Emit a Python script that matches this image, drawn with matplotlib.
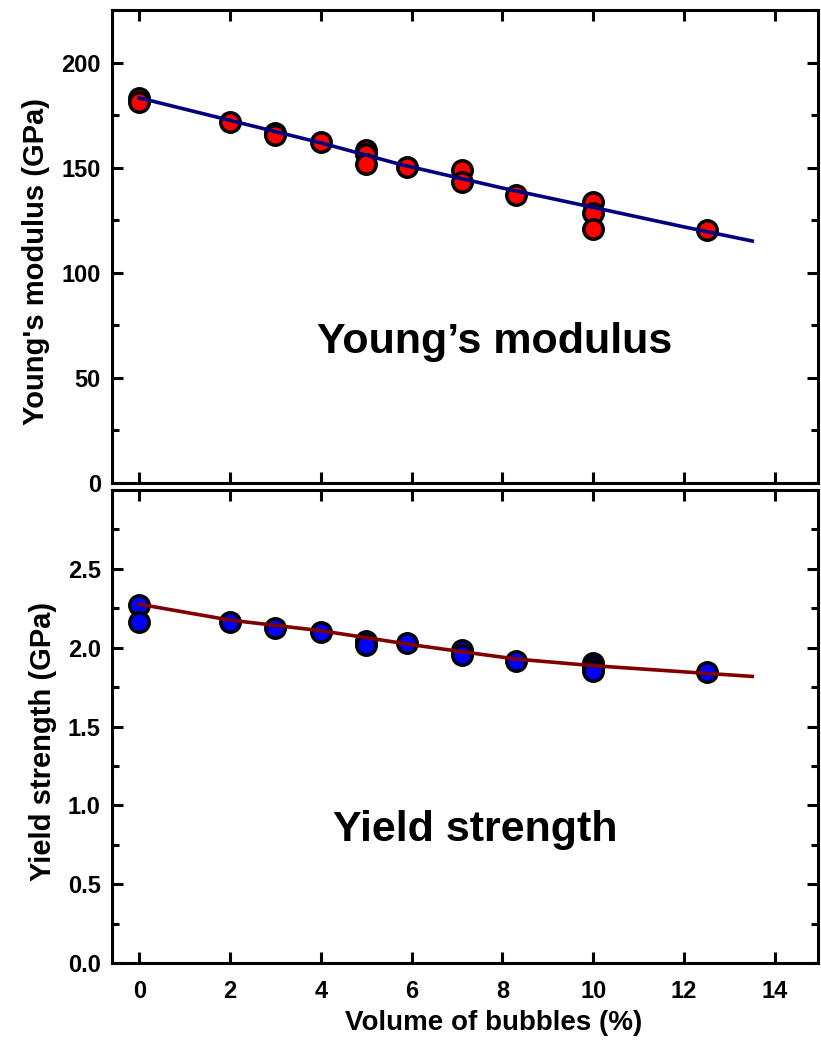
import matplotlib
matplotlib.use('Agg')
import matplotlib.pyplot as plt
from matplotlib.ticker import MultipleLocator, FixedLocator

plt.rcParams['font.family'] = ['Liberation Sans', 'DejaVu Sans']
plt.rcParams['font.weight'] = 'bold'

# measured points (volume of bubbles %)
young_x = [0, 0, 2, 3, 3, 4, 5, 5, 5, 5.9, 7.1, 7.1, 8.3, 10, 10, 10, 12.5]
young_y = [183, 181, 171.6, 166.4, 165.3, 162.1, 158.5, 156.6, 151.9, 150.3,
           148.7, 143.4, 136.8, 133.6, 128.4, 121.0, 120.5]

yield_x = [0, 0, 2, 3, 4, 5, 5, 5.9, 7.1, 7.1, 8.3, 10, 10, 10, 12.5]
yield_y = [2.27, 2.16, 2.165, 2.125, 2.10, 2.044, 2.02, 2.027, 1.985, 1.955,
           1.913, 1.90, 1.875, 1.855, 1.844]

# fitted curves
young_fit_x = [0, 2, 4, 5.76, 8, 10, 12, 13.5]
young_fit_y = [183.2, 172.5, 161.8, 151.5, 140.3, 131.1, 121.8, 115.1]

yield_fit_x = [0, 2, 4, 6, 7.1, 8.3, 10, 12.5, 13.5]
yield_fit_y = [2.276, 2.175, 2.108, 2.019, 1.975, 1.928, 1.886, 1.837, 1.818]

young_ticks = [0, 50, 100, 150, 200]
yield_ticks = [0.0, 0.5, 1.0, 1.5, 2.0, 2.5]

fig = plt.figure(figsize=(8.21, 10.42), dpi=100)
ax1 = fig.add_axes([0.1364, 0.5365, 0.860, 0.4539])
ax2 = fig.add_axes([0.1364, 0.0758, 0.860, 0.4539])

for ax in (ax1, ax2):
    ax.set_xlim(-0.6, 14.95)
    ax.xaxis.set_major_locator(MultipleLocator(2))
    ax.tick_params(which='both', direction='in', top=True, right=True,
                   width=2.2, labelsize=17)
    ax.tick_params(axis='y', which='major', pad=8)
    ax.tick_params(axis='x', which='major', pad=12)
    ax.tick_params(which='major', length=8)
    ax.tick_params(which='minor', length=5)
    for s in ax.spines.values():
        s.set_linewidth(2.2)

ax1.plot(young_fit_x, young_fit_y, color='#000080', lw=2.6, zorder=3)
ax1.plot(young_x, young_y, 'o', ms=14, mfc='#ff0000', mec='black', mew=2.5, zorder=2)
ax1.set_ylim(0, 225)
ax1.yaxis.set_major_locator(FixedLocator(young_ticks))
ax1.yaxis.set_minor_locator(MultipleLocator(25))
ax1.tick_params(labelbottom=False)
ax1.set_ylabel("Young's modulus (GPa)", fontsize=21, fontweight='bold', labelpad=8)
ax1.yaxis.label.set_y(0.469)
ax1.text(7.82, 61.8, "Young\u2019s modulus", fontsize=31, fontweight='bold',
         ha='center', va='baseline')

ax2.plot(yield_fit_x, yield_fit_y, color='#800000', lw=2.6, zorder=3)
ax2.plot(yield_x, yield_y, 'o', ms=14, mfc='#0000ff', mec='black', mew=2.5, zorder=2)
ax2.set_ylim(0, 3.0)
ax2.yaxis.set_major_locator(FixedLocator(yield_ticks))
ax2.yaxis.set_minor_locator(MultipleLocator(0.25))
ax2.set_yticklabels([f'{v:.1f}' for v in yield_ticks])
ax2.set_ylabel("Yield strength (GPa)", fontsize=21, fontweight='bold', labelpad=8)
ax2.yaxis.label.set_y(0.469)
ax2.set_xlabel("Volume of bubbles (%)", fontsize=20, fontweight='bold', labelpad=5)
ax2.xaxis.label.set_x(0.54)
ax2.text(7.4, 0.772, "Yield strength", fontsize=31, fontweight='bold',
         ha='center', va='baseline')

fig.savefig('out.png', dpi=100)
